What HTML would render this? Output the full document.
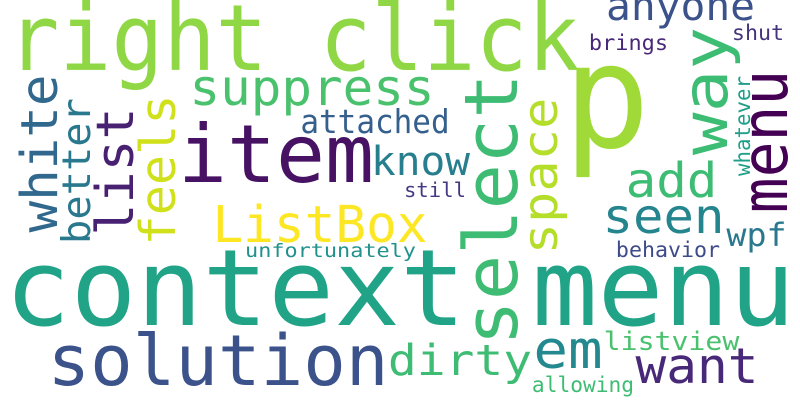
<!DOCTYPE html>
<html><head><meta charset="utf-8"><style>
html,body{margin:0;padding:0;background:#fff;}
svg{display:block;}
text{font-family:"DejaVu Sans Mono","Liberation Mono",monospace;}
</style></head><body>
<svg id="cloud" width="800" height="400" viewBox="0 0 800 400" xmlns="http://www.w3.org/2000/svg">
<rect width="800" height="400" fill="#ffffff"/>
</svg>
<script>
// word, x0 (ink left/bottom), x1/extent, baseline, size, color, vertical
const words = ["right click","item","suppress","attached","know","ListBox","unfortunately","context menu","solution","dirty","em","listview","want","allowing","seen","wpf","behavior","add","anyone","brings","shut","still","select","space","way","menu","whatever","white","better","list","feels"];
const sizes = [92,80,50,33,40,51,19,106,70,43,53,26,49,21,48,32,21,48,40,21,21,20,74,48,62,64,21,51,39,52,49];
const colors = ["#8fd744","#471164","#4ac16d","#355f8d","#277f8e","#fde725","#21918c","#20a386","#3b528b","#3fbc73","#23898e","#4ac16d","#482878","#3fbc73","#25858e","#2a788e","#3e4a89","#3dbc74","#3b528b","#482878","#46337e","#443983","#3fbc73","#b5de2b","#3dbc74","#440154","#1f9e89","#31688e","#2a788e","#482173","#d0e11c"];
// horizontal: [start x, end x, baseline y]; vertical: [bottom y, top y, baseline x]
const starts = [12,182,192,302,373,215,246,10,51,390,536,605,638,533,605,728,617,628,608,590,733,405,342,252,152,210,175,230,242,233,243];
const ends = [575,370,432,448,468,425,415,790,385,530,600,738,756,633,722,785,719,715,753,667,783,465,77,100,30,73,77,77,100,110,97];
const baselines = [70,182,105,133,175,242,257,325,385,375,368,350,383,392,233,246,257,197,20,50,40,197,517,557,727,787,750,57,90,133,175];
const vertical = [0,0,0,0,0,0,0,0,0,0,0,0,0,0,0,0,0,0,0,0,0,0,1,1,1,1,1,1,1,1,1];
const svg = document.getElementById('cloud');
const NS = 'http://www.w3.org/2000/svg';
for (let i = 0; i < words.length; i++) {
  const t = document.createElementNS(NS, 'text');
  
  
  const s = sizes[i];
  const len = Math.abs(ends[i] - starts[i]) + 0.1 * s;
  t.setAttribute('font-size', s);
  t.setAttribute('fill', colors[i]);
  t.setAttribute('textLength', len);
  t.setAttribute('lengthAdjust', 'spacingAndGlyphs');
  if (vertical[i]) {
    const bx = baselines[i], by = starts[i] + 0.05 * s;
    t.setAttribute('x', 0); t.setAttribute('y', 0);
    t.setAttribute('transform', 'translate(' + bx + ',' + by + ') rotate(-90)');
  } else {
    t.setAttribute('x', starts[i] - 0.05 * s);
    t.setAttribute('y', baselines[i]);
  }
  t.textContent = words[i];
  svg.appendChild(t);
}
// the large single letter "p"
const p = document.createElementNS(NS, 'text');


p.setAttribute('x', 563); p.setAttribute('y', 147);
p.setAttribute('font-size', 145); p.setAttribute('fill', '#a0da39');
p.textContent = 'p';
svg.appendChild(p);
</script>
</body></html>
